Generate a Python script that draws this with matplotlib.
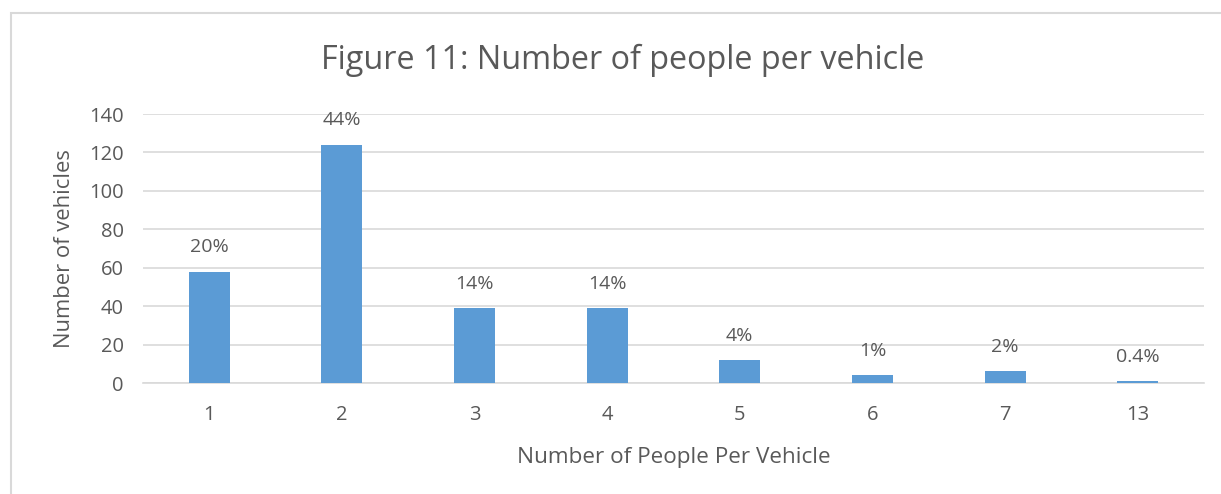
import matplotlib
matplotlib.use("Agg")
import matplotlib.pyplot as plt
from matplotlib.patches import Rectangle

categories = ["1", "2", "3", "4", "5", "6", "7", "13"]
vehicles = [58, 124, 39, 39, 12, 4, 6, 1]
pct_labels = ["20%", "44%", "14%", "14%", "4%", "1%", "2%", "0.4%"]
yticks = [0, 20, 40, 60, 80, 100, 120, 140]

plt.rcParams['font.family'] = ['Open Sans', 'DejaVu Sans']
txt = '#595959'

W, H = 1221, 494
fig = plt.figure(figsize=(W/100, H/100), dpi=100)
fig.patches.append(Rectangle((11/W, -0.2), 1.2, 1.2 - 13/H, transform=fig.transFigure,
                             fill=False, edgecolor='#d9d9d9', linewidth=1.5))
ax = fig.add_axes([143/W, 1 - 383/H, (1204-143)/W, (383-114)/H])
x = range(len(categories))
ax.bar(x, vehicles, width=0.31, color='#5b9bd5', zorder=3)
ax.set_xlim(-0.5, len(categories) - 0.5)
ax.set_ylim(0, 140)
ax.set_yticks(yticks)
ax.set_xticks(list(x))
ax.set_xticklabels(categories)
ax.grid(axis='y', color='#d9d9d9', linewidth=1.2, zorder=0)
for s in ['top', 'right', 'left']:
    ax.spines[s].set_visible(False)
ax.spines['bottom'].set_color('#d9d9d9')
ax.spines['bottom'].set_linewidth(1.2)
ax.tick_params(axis='both', length=0, colors=txt, labelsize=14.5)
ax.tick_params(axis='x', pad=16)
ax.tick_params(axis='y', pad=14)
for xi, v, lab in zip(x, vehicles, pct_labels):
    ax.annotate(lab, (xi, v), xytext=(0, 11), textcoords='offset points',
                ha='center', va='bottom', fontsize=14, color=txt)
ax.set_xlabel("Number of People Per Vehicle", fontsize=16.2, color=txt, labelpad=16)
ax.set_ylabel("Number of vehicles", fontsize=15.8, color=txt, labelpad=10)
fig.text(623/W, 1 - 60/H, "Figure 11: Number of people per vehicle", ha='center', va='center',
         fontsize=23.3, color=txt)
fig.savefig("out.png", dpi=100)
